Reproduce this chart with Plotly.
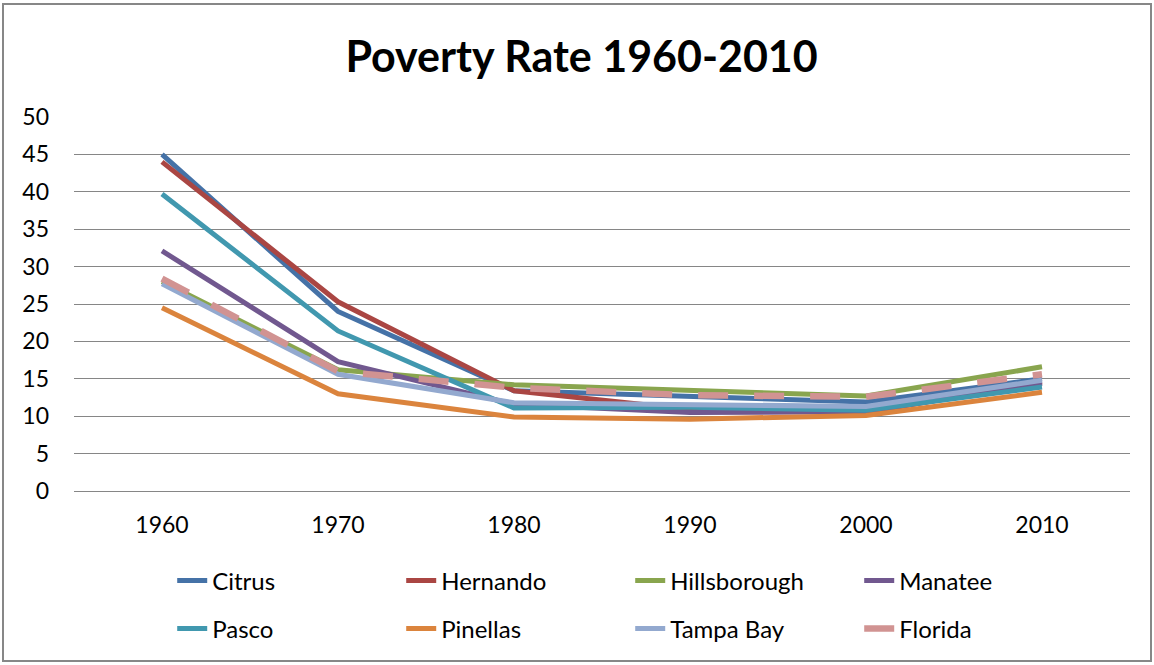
import plotly.graph_objects as go

years = ["1960", "1970", "1980", "1990", "2000", "2010"]

citrus = [45.0, 24.0, 13.4, 12.7, 11.9, 15.0]
hernando = [44.0, 25.3, 13.4, 10.9, 10.5, 14.6]
hillsborough = [28.0, 16.2, 14.2, 13.4, 12.7, 16.6]
manatee = [32.1, 17.3, 11.6, 10.5, 10.6, 14.4]
pasco = [39.7, 21.4, 11.1, 11.2, 10.8, 13.9]
pinellas = [24.5, 13.0, 9.9, 9.6, 10.1, 13.2]
tampa_bay = [27.7, 15.6, 11.8, 11.5, 11.3, 14.8]
florida = [28.4, 16.0, 13.8, 12.8, 12.6, 15.6]

series = [
    ("Citrus", citrus, "#4572A7", "solid", "legend"),
    ("Hernando", hernando, "#AA4643", "solid", "legend"),
    ("Hillsborough", hillsborough, "#89A54E", "solid", "legend"),
    ("Manatee", manatee, "#71588F", "solid", "legend"),
    ("Pasco", pasco, "#4198AF", "solid", "legend2"),
    ("Pinellas", pinellas, "#DB843D", "solid", "legend2"),
    ("Tampa Bay", tampa_bay, "#93A9CF", "solid", "legend2"),
    ("Florida", florida, "#D19392", "30px,26px", "legend2"),
]

FONT = "Lato, 'Open Sans', sans-serif"

fig = go.Figure()
for name, vals, color, dash, leg in series:
    fig.add_trace(go.Scatter(
        x=years, y=vals, name=name, mode="lines",
        line=dict(color=color, width=6.5 if dash != "solid" else 5, dash=dash),
        legend=leg,
    ))

legend_common = dict(
    orientation="h", xanchor="left", yanchor="middle",
    entrywidth=184, entrywidthmode="pixels",
    font=dict(family=FONT, size=24, color="#000000"),
    bgcolor="rgba(0,0,0,0)", traceorder="normal",
)

fig.update_layout(
    width=1154, height=665,
    margin=dict(l=74, r=24, t=117, b=174),
    paper_bgcolor="white", plot_bgcolor="white",
    font=dict(family=FONT, size=23, color="#000000"),
    title=dict(text="<b>Poverty Rate 1960-2010</b>", x=0.504, xanchor="center",
               y=0.915, yanchor="middle",
               font=dict(family=FONT, size=43, color="#000000")),
    legend=dict(x=0.093, y=-0.2406, **legend_common),
    legend2=dict(x=0.093, y=-0.369, **legend_common),
    xaxis=dict(type="category", range=[-0.5, 5.5], showgrid=False,
               showline=False, zeroline=False, ticks="",
               ticklabelstandoff=18, tickfont=dict(family=FONT, size=23)),
    yaxis=dict(range=[0, 50], dtick=5, showgrid=True, gridcolor="#868686",
               gridwidth=1, zeroline=True, zerolinecolor="#868686",
               zerolinewidth=1, showline=False, ticks="",
               ticklabelstandoff=24, tickfont=dict(family=FONT, size=23)),
    shapes=[dict(type="rect", xref="paper", yref="paper",
                 x0=(3 - 74) / 1056, x1=(1151 - 74) / 1056,
                 y0=(491 - 661) / 374, y1=(491 - 4) / 374,
                 line=dict(color="#878787", width=2), layer="below")],
)

fig.write_html("out.html")
